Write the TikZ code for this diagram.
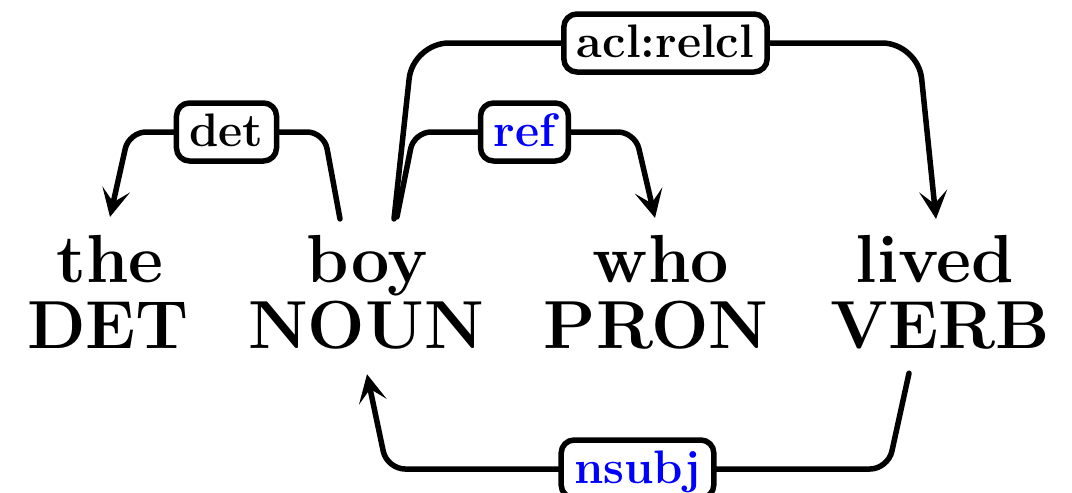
\documentclass[tikz,border=0pt]{standalone}
\usepackage{fontspec}
\usetikzlibrary{arrows.meta,calc}
\tikzset{
  word/.style={inner sep=0pt, anchor=base, font=\fontsize{34}{40}\selectfont\bfseries},
  deplabel/.style={draw=black, line width=2.75pt, rounded corners=6.5pt, fill=white,
    inner xsep=6.5pt, inner ysep=0pt, minimum height=29pt,
    text height=16.5pt, text depth=2pt, font=\fontsize{23.5}{28}\selectfont\bfseries},
  depedge/.style={line width=2.75pt, line cap=round, line join=round,
    -{Stealth[length=14pt,width=14pt,inset=6.5pt]}},
}
\begin{document}
\begin{tikzpicture}[x=0.5pt,y=-0.5pt]
\useasboundingbox (0,0) rectangle (1072,493);
% words
\node[word] (the)   at (110,282) {the};
\node[word] (boy)   at (367,282) {boy};
\node[word] (who)   at (661,282) {who};
\node[word] (lived) at (935,282) {lived};
\node[word] (DET)   at (108,348) {DET};
\node[word] (NOUN)  at (366,348) {NOUN};
\node[word] (PRON)  at (656,348) {PRON};
\node[word] (VERB)  at (940,348) {VERB};
% edge ends
\coordinate (detS)   at ($(boy.north)+(-27,-15.5)$);
\coordinate (detE)   at ($(the.north)+(0,-17.5)$);
\coordinate (aclS)   at ($(boy.north)+(27,-15.5)$);
\coordinate (aclE)   at ($(lived.north)+(1,-15.5)$);
\coordinate (refS)   at ($(boy.north)+(30,-17.5)$);
\coordinate (refE)   at ($(who.north)+(-6,-16.5)$);
\coordinate (nsubjS) at ($(VERB.south)+(-31,24)$);
\coordinate (nsubjE) at ($(NOUN.south)+(1,25)$);
% edges
\draw[depedge, rounded corners=8.5pt] (detS) -- (324,132) -- node[deplabel] (ldet) {det} (129,132) -- (detE);
\draw[depedge, rounded corners=18pt] (aclS) -- (413,43) -- node[deplabel] (lacl) {acl:relcl} (918,43) -- (aclE);
\draw[depedge, rounded corners=8.5pt] (refS) -- (414,132) -- node[deplabel, text=blue] (lref) {ref} (635,132) -- (refE);
\draw[depedge, rounded corners=9pt] (nsubjS) -- (888,469) -- node[deplabel, text=blue] (lnsubj) {nsubj} (387,469) -- (nsubjE);
\end{tikzpicture}
\end{document}
